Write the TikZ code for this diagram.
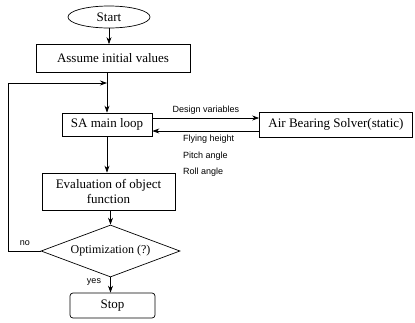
\documentclass[tikz,border=0pt]{standalone}
\usepackage{fontspec}
\setmainfont{Liberation Serif}
\newfontfamily\lblfont{Liberation Sans}
\usetikzlibrary{shapes.geometric,arrows.meta}
\begin{document}
\begin{tikzpicture}[x=1pt,y=-1pt,
  box/.style={draw,line width=0.7pt,inner sep=0pt,align=center,font=\fontsize{13}{15}\selectfont},
  lbl/.style={inner sep=0pt,font=\lblfont\fontsize{9}{11}\selectfont},
  arr/.style={line width=0.7pt,-{Stealth[length=7pt,width=5pt]}},
  ln/.style={line width=0.7pt}]
\useasboundingbox (0,0) rectangle (415,322);
\node[box,ellipse,minimum width=82pt,minimum height=22pt] (start) at (109,17) {Start};
\node[box,rectangle,minimum width=154pt,minimum height=28pt] (assume) at (113,58.5) {Assume initial values};
\node[box,rectangle,minimum width=90pt,minimum height=23pt] (sa) at (107,124.5) {SA main loop};
\node[box,rectangle,minimum width=153pt,minimum height=25pt] (air) at (336,124.5) {Air Bearing Solver(static)};
\node[box,rectangle,minimum width=133pt,minimum height=37pt] (eval) at (108.5,191.5) {Evaluation of object\\function};
\node[box,diamond,minimum width=139pt,minimum height=52pt,shape aspect=2.67,font=\fontsize{12}{14}\selectfont] (opt) at (110.5,251) {Optimization (?)};
\node[box,rectangle,rounded corners=3pt,minimum width=85pt,minimum height=25pt] (stop) at (112.5,305.5) {Stop};
\coordinate (lp) at (107,83);
\coordinate (lc) at (8,83);
\coordinate (lb) at (8,251);
\draw[arr] (start.south) -- (start.south |- assume.north);
\draw[arr] (sa.north |- assume.south) -- (sa.north);
\draw[arr] (opt.west) -- (lb) -- (lc) -- (lp);
\draw[arr] (sa.south) -- (sa.south |- eval.north);
\draw[arr] (eval.south -| opt.north) -- (opt.north);
\draw[arr] (opt.south) -- (opt.south |- stop.north);
\draw[arr] ([yshift=6.5pt]sa.east) -- ([yshift=6.5pt]sa.east -| air.west);
\draw[arr] ([yshift=-6.5pt]sa.east -| air.west) -- ([yshift=-6.5pt]sa.east);
\node[lbl] (dv) at (206,110) {Design variables};
\node[lbl,anchor=west] (fh) at (183,139) {Flying height};
\node[lbl,anchor=west] (pa) at (183,156) {Pitch angle};
\node[lbl,anchor=west] (ra) at (183,172) {Roll angle};
\node[lbl] (no) at (25,243) {no};
\node[lbl] (yes) at (94,282) {yes};
\end{tikzpicture}
\end{document}
